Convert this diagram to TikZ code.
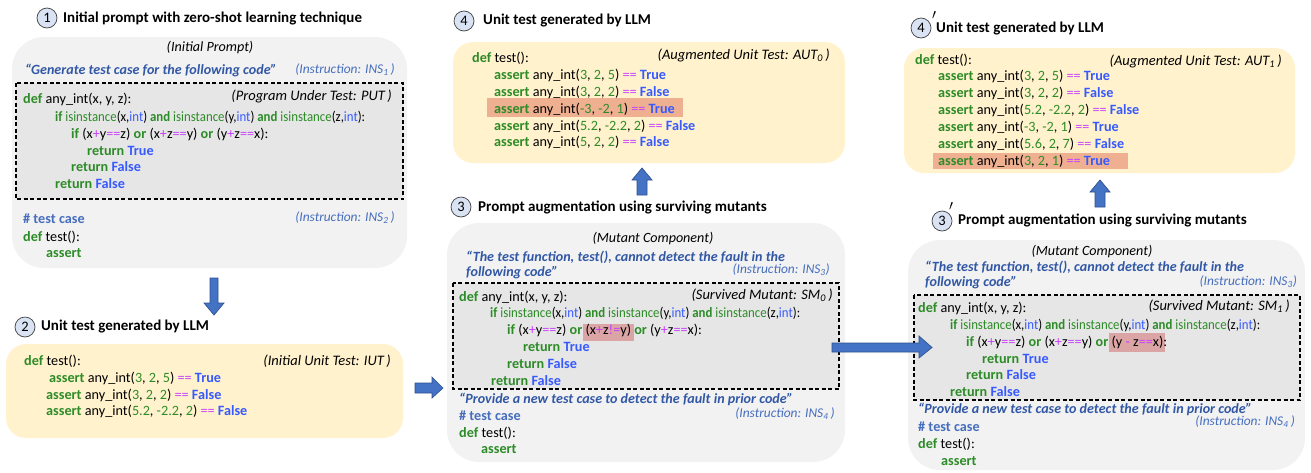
\documentclass[tikz,border=0pt]{standalone}
\usepackage{fontspec}
\usepackage{graphicx}
\setmainfont{Carlito}
\definecolor{kwg}{RGB}{45,140,40}
\definecolor{blu}{RGB}{55,90,255}
\definecolor{purp}{RGB}{200,60,255}
\definecolor{insd}{RGB}{50,88,165}
\definecolor{insl}{RGB}{70,110,190}
\definecolor{grayfill}{RGB}{242,242,242}
\definecolor{dashfill}{RGB}{230,230,230}
\definecolor{yel}{RGB}{255,242,204}
\definecolor{hlo}{RGB}{238,176,145}
\definecolor{hlp}{RGB}{220,165,165}
\definecolor{arrf}{RGB}{68,114,196}
\definecolor{arrd}{RGB}{47,82,143}
\definecolor{circf}{RGB}{218,227,243}
\newcommand\kw[1]{\textcolor{kwg}{\bfseries #1}}
\newcommand\gr[1]{\textcolor{kwg}{#1}}
\newcommand\bt[1]{\textcolor{blu}{\bfseries #1}}
\newcommand\bi[1]{\textcolor{blu}{#1}}
\newcommand\op[1]{\textcolor{purp}{#1}}
\newcommand\isinst{\scalebox{0.905}[1]{\kw{if} \gr{isinstance}(x,\bi{int}) \kw{and} \gr{isinstance}(y,\bi{int}) \kw{and} \gr{isinstance}(z,\bi{int}):}}
\newcommand\defany{\kw{def} any\_int(x, y, z):}
\tikzset{
  code/.style={anchor=west, inner sep=0pt, font=\fontsize{14.2}{16}\selectfont},
  lab/.style={anchor=east, inner sep=0pt, font=\fontsize{14.5}{16}\selectfont\itshape},
  clab/.style={inner sep=0pt, font=\fontsize{14.1}{16}\selectfont\itshape},
  inslab/.style={anchor=east, inner sep=0pt, font=\fontsize{13.4}{16}\selectfont\itshape, text=insl},
  insq/.style={anchor=west, inner sep=0pt, font=\fontsize{14.1}{16}\selectfont\bfseries\itshape, text=insd},
  cmt/.style={anchor=west, inner sep=0pt, font=\fontsize{14.2}{16}\selectfont\bfseries, text=insl},
  ttl/.style={anchor=west, inner sep=0pt, font=\fontsize{15}{17}\selectfont\bfseries},
  num/.style={circle, draw=black!75, fill=circf, line width=0.7pt, minimum size=20pt, inner sep=0pt, font=\fontsize{14.5}{16}\selectfont},
  prm/.style={inner sep=0pt, font=\fontsize{14}{16}\selectfont},
  graybox/.style={fill=grayfill, rounded corners=32pt},
  yelbox/.style={fill=yel, rounded corners=20pt},
  dashbox/.style={fill=dashfill, draw=black, dash pattern=on 4pt off 2.5pt, line width=1.1pt},
  blockarrow/.style={fill=arrf, draw=arrd, line width=0.7pt, line join=miter},
}
\begin{document}
\begin{tikzpicture}[x=1pt,y=-1pt]
\useasboundingbox (0,0) rectangle (1311,472);

% ===== Box 1 : initial prompt =====
\node[num] (n1) at (47,18) {1};
\node[ttl] (t1) at (63,18) {Initial prompt with zero-shot learning technique};
\fill[graybox] (12,37) rectangle (407,268);
\node[clab] (ip) at (210,47) {(Initial Prompt)};
\node[insq] (q1) at (25,70) {“Generate test case for the following code”};
\node[inslab] (i1) at (395,70) {(Instruction: INS\textsubscript{1}\,)};
\draw[dashbox] (16,83) rectangle (403,199);
\node[code] (c11) at (23,99) {\defany};
\node[lab] (put) at (392,96) {(Program Under Test: PUT\,)};
\node[code] (c12) at (55,117) {\isinst};
\node[code] (c13) at (71,134) {\kw{if} (x\op{+}y\op{==}z) \kw{or} (x\op{+}z\op{==}y) \kw{or} (y\op{+}z\op{==}x):};
\node[code] (c14) at (87,151) {\kw{return} \bt{True}};
\node[code] (c15) at (71,167) {\kw{return} \bt{False}};
\node[code] (c16) at (55,184) {\kw{return} \bt{False}};
\node[cmt] (c17) at (23,219) {\# test case};
\node[inslab] (i2) at (395,218) {(Instruction: INS\textsubscript{2}\,)};
\node[code] (c18) at (23,237) {\kw{def} test():};
\node[code] (c19) at (46,253) {\kw{assert}};

% ===== Box 2 : initial unit test =====
\node[num] (n2) at (25,327) {2};
\node[ttl] (t2) at (41,327) {Unit test generated by LLM};
\fill[yelbox] (6,344) rectangle (403,438);
\node[code] (c21) at (24,361) {\kw{def} test():};
\node[lab] (iut) at (391,361) {(Initial Unit Test: IUT\,)};
\node[code] (c22) at (49,378) {\kw{assert} any\_int(\gr{3}, \gr{2}, \gr{5}) \op{==} \bt{True}};
\node[code] (c23) at (46,395) {\kw{assert} any\_int(\gr{3}, \gr{2}, \gr{2}) \op{==} \bt{False}};
\node[code] (c24) at (46,411) {\kw{assert} any\_int(\gr{5.2}, \gr{-2.2}, \gr{2}) \op{==} \bt{False}};

% ===== Box 4 : augmented unit test AUT0 =====
\node[num] (n4) at (464,21) {4};
\node[ttl] (t4) at (483,21) {Unit test generated by LLM};
\fill[yelbox] (453,42) rectangle (845,163);
\fill[hlo] (487,98) rectangle (683,117);
\node[code] (c41) at (472,58) {\kw{def} test():};
\node[lab] (aut0) at (830,55) {(Augmented Unit Test: AUT\textsubscript{0}\,)};
\node[code] (c42) at (494,75) {\kw{assert} any\_int(\gr{3}, \gr{2}, \gr{5}) \op{==} \bt{True}};
\node[code] (c43) at (494,92) {\kw{assert} any\_int(\gr{3}, \gr{2}, \gr{2}) \op{==} \bt{False}};
\node[code] (c44) at (494,109) {\kw{assert} any\_int(\gr{-3}, \gr{-2}, \gr{1}) \op{==} \bt{True}};
\node[code] (c45) at (494,126) {\kw{assert} any\_int(\gr{5.2}, \gr{-2.2}, \gr{2}) \op{==} \bt{False}};
\node[code] (c46) at (494,142) {\kw{assert} any\_int(\gr{5}, \gr{2}, \gr{2}) \op{==} \bt{False}};

% ===== Box 3 : mutant component SM0 =====
\node[num] (n3) at (461,207) {3};
\node[ttl] (t3) at (478,207) {Prompt augmentation using surviving mutants};
\fill[graybox] (447,223) rectangle (845,462);
\node[clab] (mc) at (653,238) {(Mutant Component)};
\node[insq] (q3a) at (466,257) {“The test function, test(), cannot detect the fault in the};
\node[insq] (q3b) at (466,273) {following code”};
\node[inslab] (i3) at (830,270) {(Instruction: INS\textsubscript{3})};
\draw[dashbox] (453,283) rectangle (839,389);
\fill[hlp] (583,324) rectangle (634,341);
\node[code] (c31) at (459,297) {\defany};
\node[lab] (sm0) at (833,295) {(Survived Mutant: SM\textsubscript{0}\,)};
\node[code] (c32) at (490,313) {\isinst};
\node[code] (c33) at (507,330) {\kw{if} (x\op{+}y\op{==}z) \kw{or} (x\op{+}z\op{!=}y) \kw{or} (y\op{+}z\op{==}x):};
\node[code] (c34) at (523,347) {\kw{return} \bt{True}};
\node[code] (c35) at (507,364) {\kw{return} \bt{False}};
\node[code] (c36) at (491,381) {\kw{return} \bt{False}};
\node[insq] (q4) at (459,399) {“Provide a new test case to detect the fault in prior code”};
\node[cmt] (c37) at (459,416) {\# test case};
\node[inslab] (i4) at (835,414) {(Instruction: INS\textsubscript{4}\,)};
\node[code] (c38) at (459,433) {\kw{def} test():};
\node[code] (c39) at (481,449) {\kw{assert}};

% ===== Box 4' : augmented unit test AUT1 =====
\node[num] (n4p) at (921,28) {4};
\node[prm] (p4) at (934,15) {$\prime$};
\node[ttl] (t4p) at (936,29) {Unit test generated by LLM};
\fill[yelbox] (904,48) rectangle (1295,173);
\fill[hlo] (933,153) rectangle (1128,169);
\node[code] (d41) at (915,60) {\kw{def} test():};
\node[lab] (aut1) at (1282,61) {(Augmented Unit Test: AUT\textsubscript{1}\,)};
\node[code] (d42) at (938,76) {\kw{assert} any\_int(\gr{3}, \gr{2}, \gr{5}) \op{==} \bt{True}};
\node[code] (d43) at (938,93) {\kw{assert} any\_int(\gr{3}, \gr{2}, \gr{2}) \op{==} \bt{False}};
\node[code] (d44) at (938,110) {\kw{assert} any\_int(\gr{5.2}, \gr{-2.2}, \gr{2}) \op{==} \bt{False}};
\node[code] (d45) at (938,127) {\kw{assert} any\_int(\gr{-3}, \gr{-2}, \gr{1}) \op{==} \bt{True}};
\node[code] (d46) at (938,144) {\kw{assert} any\_int(\gr{5.6}, \gr{2}, \gr{7}) \op{==} \bt{False}};
\node[code] (d47) at (938,161) {\kw{assert} any\_int(\gr{3}, \gr{2}, \gr{1}) \op{==} \bt{True}};

% ===== Box 3' : mutant component SM1 =====
\node[num] (n3p) at (942,221) {3};
\node[prm] (p3) at (951,206) {$\prime$};
\node[ttl] (t3p) at (958,220) {Prompt augmentation using surviving mutants};
\fill[graybox] (908,240) rectangle (1305,470);
\node[clab] (mcp) at (1092,251) {(Mutant Component)};
\node[insq] (r3a) at (925,267) {“The test function, test(), cannot detect the fault in the};
\node[insq] (r3b) at (925,283) {following code”};
\node[inslab] (j3) at (1297,282) {(Instruction: INS\textsubscript{3})};
\draw[dashbox] (914,295) rectangle (1300,400);
\fill[hlp] (1109,333) rectangle (1165,352);
\node[code] (e31) at (918,308) {\defany};
\node[lab] (sm1) at (1290,306) {(Survived Mutant: SM\textsubscript{1}\,)};
\node[code] (e32) at (950,325) {\isinst};
\node[code] (e33) at (966,342) {\kw{if} (x\op{+}y\op{==}z) \kw{or} (x\op{+}z\op{==}y) \kw{or} (y \op{-} z\op{==}x):};
\node[code] (e34) at (982,359) {\kw{return} \bt{True}};
\node[code] (e35) at (966,375) {\kw{return} \bt{False}};
\node[code] (e36) at (950,392) {\kw{return} \bt{False}};
\node[insq] (r4) at (918,409) {“Provide a new test case to detect the fault in prior code”};
\node[inslab] (j4) at (1295,422) {(Instruction: INS\textsubscript{4}\,)};
\node[cmt] (e37) at (918,427) {\# test case};
\node[code] (e38) at (918,444) {\kw{def} test():};
\node[code] (e39) at (941,461) {\kw{assert}};

% ===== block arrows =====
\draw[blockarrow] (210,278) -- (218,278) -- (218,303) -- (224,303) -- (214,315) -- (204,303) -- (210,303) -- cycle;
\draw[blockarrow] (415,383) -- (432,383) -- (432,377) -- (443,388) -- (432,398) -- (432,393) -- (415,393) -- cycle;
\draw[blockarrow] (637,195) -- (647,195) -- (647,180) -- (652,180) -- (642,168) -- (632,180) -- (637,180) -- cycle;
\draw[blockarrow] (832,343) -- (919,343) -- (919,336) -- (932,347.5) -- (919,358) -- (919,352) -- (832,352) -- cycle;
\draw[blockarrow] (1095,207) -- (1105,207) -- (1105,192) -- (1110,192) -- (1100,180) -- (1090,192) -- (1095,192) -- cycle;
\end{tikzpicture}
\end{document}
